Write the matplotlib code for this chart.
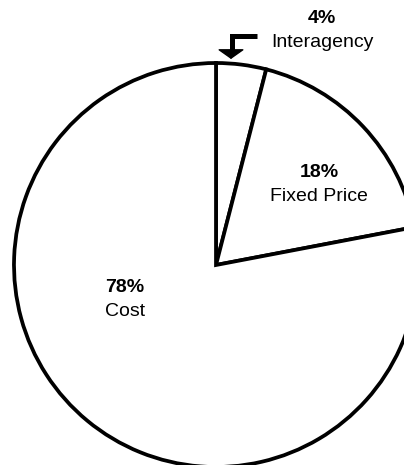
import matplotlib.pyplot as plt

plt.rcParams['font.family'] = ['Liberation Sans', 'DejaVu Sans']

labels = ['Interagency', 'Fixed Price', 'Cost']
shares = [4, 18, 78]

H = 465  # image height in px, used to flip y

fig = plt.figure(figsize=(4.04, 4.65), dpi=100)
ax = fig.add_axes([0, 0, 1, 1])

ax.pie(shares, radius=202, center=(216, H - 265), startangle=90,
       counterclock=False, colors=['white'] * 3,
       wedgeprops=dict(edgecolor='black', linewidth=2.7))
ax.set_xlim(0, 404)
ax.set_ylim(0, H)
ax.set_aspect('equal')
ax.axis('off')

# labels (pixel positions from the reference)
pos = {'Interagency': (322, 18, 42), 'Fixed Price': (319, 172, 196), 'Cost': (125, 287, 312)}
for lab, s in zip(labels, shares):
    x, y1, y2 = pos[lab]
    ax.text(x, H - y1, f'{s}%', ha='center', va='center', fontsize=14, fontweight='bold')
    ax.text(x, H - y2, lab, ha='center', va='center', fontsize=14)

# bent arrow pointing into the small wedge
ax.plot([257, 232, 232], [H - 35.5, H - 35.5, H - 52], color='black', lw=3.6,
        solid_capstyle='butt', solid_joinstyle='miter')
ax.annotate('', xy=(231, H - 59), xytext=(231, H - 49),
            arrowprops=dict(arrowstyle='-|>,head_width=0.85,head_length=0.6',
                            color='black', lw=1, shrinkA=0, shrinkB=0))

fig.savefig('out.png', dpi=100)
